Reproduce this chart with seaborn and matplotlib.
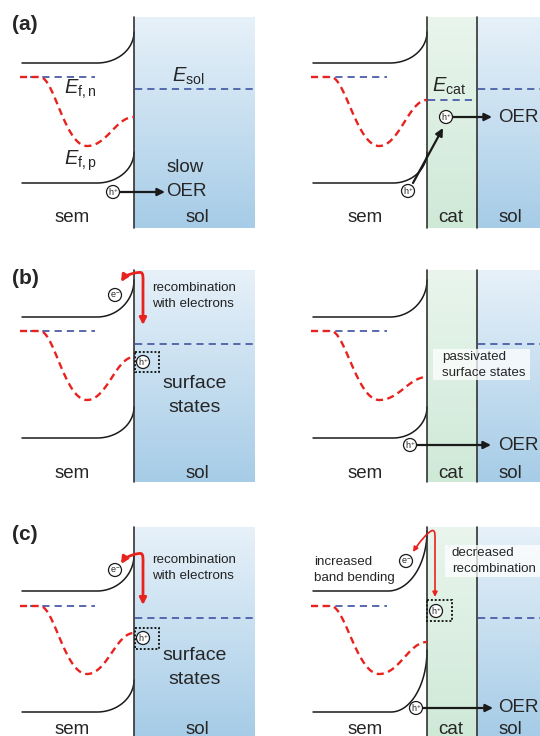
import numpy as np
import matplotlib
matplotlib.use("Agg")
import matplotlib.pyplot as plt
import seaborn as sns
from matplotlib.patches import Circle, Rectangle, FancyArrowPatch
from matplotlib.path import Path
from matplotlib.colors import LinearSegmentedColormap

sns.set_style("white")
plt.rcParams['font.family'] = ['Liberation Sans', 'DejaVu Sans']
plt.rcParams['mathtext.fontset'] = 'custom'
plt.rcParams['mathtext.rm'] = 'Liberation Sans'
plt.rcParams['mathtext.it'] = 'Liberation Sans:italic'
plt.rcParams['mathtext.bf'] = 'Liberation Sans:bold'

# ---------------- schematic data (pixel units) ----------------
panel_labels = ['(a)', '(b)', '(c)']
label_y = [25, 279, 535]
row_top = [17, 270, 527]
row_bottom = [228, 482, 736]
cb_flat = [63, 317, 591]
cb_int_left = [32, 280, 555]
cb_int_right = [32, 280, 531]
vb_flat = [183, 438, 712]
vb_int_left = [152, 407, 680]
vb_int_right = [152, 407, 650]
fermi_level = [77, 331, 606]
qf_min = [146, 400, 674]
qf_end_left = [117, 357, 633]
qf_end_right = [100, 377, 642]
e_sol = [89, 344, 618]
e_cat = [100, None, None]
layer_label_y = [218, 473, 729]

# columns: left (sem|sol) and right (sem|cat|sol)
x_start = [22, 313]
x_bend = [97, 390]
x_bend_c_right = 388
x_int = [134, 427]
x_cat_end = 477
x_sol_end = [255, 540]

RED = '#e8221e'
BLUE = '#4a5ea8'
BLACK = '#1a1a1a'

LBL = 13.5
SMALL = 9.6

fig = plt.figure(figsize=(5.4, 7.36), dpi=100)
ax = fig.add_axes([0, 0, 1, 1])

sol_cmap = LinearSegmentedColormap.from_list('sol', ['#e7f1f9', '#a6cce7'])
cat_cmap = LinearSegmentedColormap.from_list('cat', ['#e9f5ed', '#cfe9d7'])
grad = np.linspace(0, 1, 256).reshape(-1, 1)


def fill_grad(x0, x1, y0, y1, cmap):
    ax.imshow(grad, extent=[x0, x1, y1, y0], aspect='auto', cmap=cmap,
              origin='upper', zorder=0, interpolation='bilinear')


def line(xs, ys, color=BLACK, lw=1.0, ls='-', z=2):
    sns.lineplot(x=np.asarray(xs, float), y=np.asarray(ys, float), ax=ax,
                 sort=False, estimator=None, color=color, lw=lw,
                 linestyle=ls, legend=False, zorder=z)


def band(x0, xb, xi, yf, yi):
    t = np.linspace(0, np.pi / 2, 60)
    xs = np.concatenate([[x0], xb + (xi - xb) * np.sin(t)])
    ys = np.concatenate([[yf], yf - (yf - yi) * (1 - np.cos(t))])
    line(xs, ys, lw=1.1)


def bez(p0, p1, p2, p3, n=60):
    t = np.linspace(0, 1, n)[:, None]
    return ((1 - t) ** 3) * p0 + 3 * ((1 - t) ** 2) * t * p1 + 3 * (1 - t) * t ** 2 * p2 + t ** 3 * p3


def quasi_fermi(x0, xi, yf, ymin, yend):
    xm = x0 + (xi - x0) * 0.58
    xflat = x0 + 18
    a = bez(np.array([xflat, yf]), np.array([xflat + 14, yf]),
            np.array([xm - 22, ymin]), np.array([xm, ymin]))
    b = bez(np.array([xm, ymin]), np.array([xm + 20, ymin]),
            np.array([xi - 18, yend]), np.array([xi, yend]))
    pts = np.vstack([[[x0 - 2, yf]], a, b[1:]])
    line(pts[:, 0], pts[:, 1], color=RED, lw=1.7, ls=(0, (3.0, 1.9)), z=4)


def particle(x, y, s='h', r=6.5):
    ax.add_patch(Circle((x, y), r, facecolor='white', edgecolor=BLACK, lw=0.9, zorder=6))
    txt = r'h$^{+}$' if s == 'h' else r'e$^{-}$'
    ax.text(x, y + 0.5, txt, fontsize=6.5, ha='center', va='center', zorder=7)


def arrow(x0, y0, x1, y1):
    ax.annotate('', xy=(x1, y1), xytext=(x0, y0),
                arrowprops=dict(arrowstyle='-|>', color=BLACK, lw=1.6,
                                mutation_scale=11, shrinkA=0, shrinkB=0), zorder=6)


def red_loop(tip, x_down, top_y, y_end, lw=2.0, ms=10):
    tx, ty = tip
    verts = [(tx, ty),
             (tx + 5, ty - 8), (x_down - 6, top_y), (x_down - 2, top_y + 0.5),
             (x_down + 0.5, top_y + 1.5), (x_down, top_y + 5), (x_down, top_y + 12),
             (x_down, y_end)]
    codes = [Path.MOVETO, Path.CURVE4, Path.CURVE4, Path.CURVE4,
             Path.CURVE4, Path.CURVE4, Path.CURVE4, Path.LINETO]
    p = FancyArrowPatch(path=Path(verts, codes), arrowstyle='<|-|>', color=RED,
                        lw=lw, mutation_scale=ms, zorder=8)
    ax.add_patch(p)


def dotted_box(x0, y0, x1, y1):
    ax.add_patch(Rectangle((x0, y0), x1 - x0, y1 - y0, fill=False, edgecolor=BLACK,
                           lw=1.4, linestyle=(0, (1, 1)), zorder=7))


for r in range(3):
    top, bot = row_top[r], row_bottom[r]
    # ---- left panel (sem | sol)
    fill_grad(x_int[0], x_sol_end[0], top, bot, sol_cmap)
    line([x_int[0], x_int[0]], [top, bot], color='#333333', lw=1.2, z=3)
    band(x_start[0], x_bend[0], x_int[0], cb_flat[r], cb_int_left[r])
    band(x_start[0], x_bend[0], x_int[0], vb_flat[r], vb_int_left[r])
    line([30, 95], [fermi_level[r]] * 2, color=BLUE, lw=1.3, ls=(0, (4.0, 2.8)), z=3)
    quasi_fermi(x_start[0], x_int[0], fermi_level[r], qf_min[r], qf_end_left[r])
    line([x_int[0] + 1, x_sol_end[0]], [e_sol[r]] * 2, color=BLUE, lw=1.3, ls=(0, (4.0, 2.8)), z=3)
    ax.text(25, label_y[r], panel_labels[r], fontsize=15, fontweight='bold',
            ha='center', va='center')
    ax.text(72, layer_label_y[r], 'sem', fontsize=LBL, ha='center', va='center')
    ax.text(197, layer_label_y[r], 'sol', fontsize=LBL, ha='center', va='center')

    # ---- right panel (sem | cat | sol)
    fill_grad(x_int[1], x_cat_end, top, bot, cat_cmap)
    fill_grad(x_cat_end, x_sol_end[1], top, bot, sol_cmap)
    line([x_int[1], x_int[1]], [top, bot], color='#333333', lw=1.2, z=3)
    line([x_cat_end, x_cat_end], [top, bot], color='#333333', lw=1.2, z=3)
    xb = x_bend_c_right if r == 2 else x_bend[1]
    band(x_start[1], xb, x_int[1], cb_flat[r], cb_int_right[r])
    band(x_start[1], xb + 3, x_int[1], vb_flat[r], vb_int_right[r])
    line([323, 387], [fermi_level[r]] * 2, color=BLUE, lw=1.3, ls=(0, (4.0, 2.8)), z=3)
    quasi_fermi(x_start[1], x_int[1], fermi_level[r], qf_min[r], qf_end_right[r])
    line([x_cat_end + 1, x_sol_end[1]], [e_sol[r]] * 2, color=BLUE, lw=1.3, ls=(0, (4.0, 2.8)), z=3)
    if e_cat[r] is not None:
        line([x_int[1] + 1, x_cat_end], [e_cat[r]] * 2, color=BLUE, lw=1.3, ls=(0, (4.0, 2.8)), z=3)
    ax.text(365, layer_label_y[r], 'sem', fontsize=LBL, ha='center', va='center')
    ax.text(451, layer_label_y[r], 'cat', fontsize=LBL, ha='center', va='center')
    ax.text(510, layer_label_y[r], 'sol', fontsize=LBL, ha='center', va='center')

# ---------------- row (a) annotations
ax.text(64, 89, r'$E_{\mathrm{f,n}}$', fontsize=14.5, ha='left', va='center')
ax.text(64, 161, r'$E_{\mathrm{f,p}}$', fontsize=14.5, ha='left', va='center')
ax.text(172, 76, r'$E_{\mathrm{sol}}$', fontsize=14.5, ha='left', va='center')
ax.text(432, 86, r'$E_{\mathrm{cat}}$', fontsize=14.5, ha='left', va='center')
ax.text(185, 168, 'slow', fontsize=LBL, ha='center', va='center')
ax.text(186, 192, 'OER', fontsize=LBL, ha='center', va='center')
particle(113, 192)
arrow(120, 192, 165, 192)
particle(446, 117)
arrow(453, 117, 492, 117)
ax.text(518, 117, 'OER', fontsize=LBL, ha='center', va='center')
particle(408, 191)
arrow(413, 183, 443, 128)

# ---------------- row (b) annotations
particle(115, 295, 'e')
red_loop((121, 282), 143, 272, 325)
ax.text(152, 288, 'recombination', fontsize=SMALL, ha='left', va='center', color='#222222')
ax.text(152, 304, 'with electrons', fontsize=SMALL, ha='left', va='center', color='#222222')
dotted_box(135, 352, 159, 372)
particle(143, 362)
ax.text(195, 383, 'surface', fontsize=14, ha='center', va='center')
ax.text(195, 407, 'states', fontsize=14, ha='center', va='center')
ax.add_patch(Rectangle((433, 349), 97, 31, facecolor='white', alpha=0.75,
                       edgecolor='none', zorder=5))
ax.text(442, 357, 'passivated', fontsize=SMALL, ha='left', va='center', zorder=6)
ax.text(442, 373, 'surface states', fontsize=SMALL, ha='left', va='center', zorder=6)
particle(410, 445)
arrow(417, 445, 491, 445)
ax.text(518, 445, 'OER', fontsize=LBL, ha='center', va='center')

# ---------------- row (c) annotations
particle(115, 570, 'e')
red_loop((121, 564), 143, 553, 605)
ax.text(152, 560, 'recombination', fontsize=SMALL, ha='left', va='center', color='#222222')
ax.text(152, 576, 'with electrons', fontsize=SMALL, ha='left', va='center', color='#222222')
dotted_box(135, 628, 159, 649)
particle(143, 638)
ax.text(195, 655, 'surface', fontsize=14, ha='center', va='center')
ax.text(195, 679, 'states', fontsize=14, ha='center', va='center')

ax.text(314, 562, 'increased', fontsize=SMALL, ha='left', va='center')
ax.text(314, 578, 'band bending', fontsize=SMALL, ha='left', va='center')
particle(406, 561, 'e')
red_loop((413, 552), 435, 530, 597, lw=1.2, ms=7)
ax.add_patch(Rectangle((445, 545), 95, 32, facecolor='white', alpha=0.75,
                       edgecolor='none', zorder=5))
ax.text(452, 553, 'decreased', fontsize=SMALL, ha='left', va='center', zorder=6)
ax.text(452, 569, 'recombination', fontsize=SMALL, ha='left', va='center', zorder=6)
dotted_box(427, 600, 452, 621)
particle(436, 611)
particle(416, 708)
arrow(423, 708, 493, 708)
ax.text(518, 708, 'OER', fontsize=LBL, ha='center', va='center')

ax.set_xlim(0, 540)
ax.set_ylim(736, 0)
ax.axis('off')
fig.savefig('out.png', dpi=100, facecolor='white')
